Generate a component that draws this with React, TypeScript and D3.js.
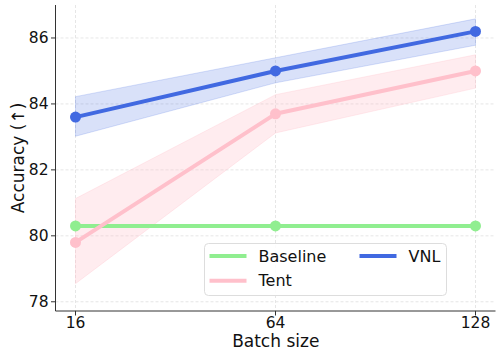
import React from 'react';
import * as d3 from 'd3';

const batchSizes = ['16', '64', '128'];
const baseline = [80.3, 80.3, 80.3];
const tent = [79.8, 83.7, 85.0];
const tentLow = [78.55, 83.12, 84.48];
const tentHigh = [81.13, 84.28, 85.49];
const vnl = [83.6, 85.0, 86.2];
const vnlLow = [83.02, 84.64, 85.78];
const vnlHigh = [84.22, 85.4, 86.58];
const yTicks = [78, 80, 82, 84, 86];

const W = 496;
const H = 350;
const margin = { top: 5, right: 0.5, bottom: 39, left: 55.5 };
const FONT = 'DejaVu Sans, sans-serif';

export default function App() {
  const x = d3.scaleLinear().domain([-0.1, 2.1]).range([margin.left, W - margin.right]);
  const y = d3.scaleLinear().domain([77.72, 87.0]).range([H - margin.bottom, margin.top]);

  const line = d3.line<number>().x((_, i) => x(i)).y(d => y(d));
  const band = (lo: number[], hi: number[]) =>
    d3.area<number>().x((_, i) => x(i)).y0((_, i) => y(lo[i])).y1((_, i) => y(hi[i]))(lo)!;

  const series = [
    { name: 'Baseline', values: baseline, color: '#90ee90' },
    { name: 'Tent', values: tent, color: '#ffc0cb', lo: tentLow, hi: tentHigh, fill: 'rgba(255,192,203,0.3)' },
    { name: 'VNL', values: vnl, color: '#4169e1', lo: vnlLow, hi: vnlHigh, fill: 'rgba(65,105,225,0.2)' },
  ];

  const bottom = H - margin.bottom;
  const gridColor = '#e0e0e0';

  return (
    <svg width={W} height={H} style={{ position: 'absolute', left: 0, top: 0, fontFamily: FONT }}>
      {/* grid */}
      {yTicks.map(t => (
        <line key={'gy' + t} x1={margin.left} x2={W - margin.right} y1={y(t)} y2={y(t)}
          stroke={gridColor} strokeWidth={0.8} strokeDasharray="3,2" />
      ))}
      {batchSizes.map((b, i) => (
        <line key={'gx' + b} x1={x(i)} x2={x(i)} y1={margin.top} y2={bottom}
          stroke={gridColor} strokeWidth={0.8} strokeDasharray="3,2" />
      ))}

      {/* bands */}
      {series.filter(s => s.lo).map(s => (
        <path key={'b' + s.name} d={band(s.lo!, s.hi!)} fill={s.fill} stroke={s.fill} strokeWidth={1} />
      ))}

      {/* lines + markers */}
      {series.map(s => (
        <g key={s.name}>
          <path d={line(s.values)!} fill="none" stroke={s.color} strokeWidth={4} strokeLinejoin="round" />
          {s.values.map((v, i) => (
            <circle key={i} cx={x(i)} cy={y(v)} r={5.5} fill={s.color} />
          ))}
        </g>
      ))}

      {/* spines */}
      <line x1={margin.left} x2={margin.left} y1={margin.top} y2={bottom} stroke="#333" strokeWidth={1} />
      <line x1={margin.left} x2={W - margin.right} y1={bottom} y2={bottom} stroke="#333" strokeWidth={1} />

      {/* y ticks */}
      {yTicks.map(t => (
        <g key={'yt' + t}>
          <line x1={margin.left - 4.5} x2={margin.left} y1={y(t)} y2={y(t)} stroke="#333" />
          <text x={margin.left - 7} y={y(t)} dy="0.35em" textAnchor="end" fontSize={15.5} fill="#111">{t}</text>
        </g>
      ))}
      {/* x ticks */}
      {batchSizes.map((b, i) => (
        <g key={'xt' + b}>
          <line x1={x(i)} x2={x(i)} y1={bottom} y2={bottom + 4.5} stroke="#333" />
          <text x={x(i)} y={bottom + 17} textAnchor="middle" fontSize={15.5} fill="#111">{b}</text>
        </g>
      ))}

      <text x={(margin.left + W) / 2} y={H - 3} textAnchor="middle" fontSize={17} fill="#111">Batch size</text>
      <text transform={`translate(18,${(margin.top + bottom) / 2}) rotate(-90)`} textAnchor="middle" dy="0.35em"
        fontSize={17} fill="#111">Accuracy (↑)</text>

      {/* legend */}
      <g>
        <rect x={204.5} y={243.5} width={242} height={52} rx={4} fill="rgba(255,255,255,0.85)" stroke="#ddd" />
        {series.map((s, i) => {
          const col = i < 2 ? 0 : 1;
          const row = i < 2 ? i : 0;
          const lx = col === 0 ? 209.5 : 359.5;
          const ly = 256 + row * 24.7;
          return (
            <g key={'lg' + s.name}>
              <line x1={lx} x2={lx + 37} y1={ly} y2={ly} stroke={s.color} strokeWidth={4} />
              <text x={lx + 49} y={ly} dy="0.35em" fontSize={16} fill="#111">{s.name}</text>
            </g>
          );
        })}
      </g>
    </svg>
  );
}
